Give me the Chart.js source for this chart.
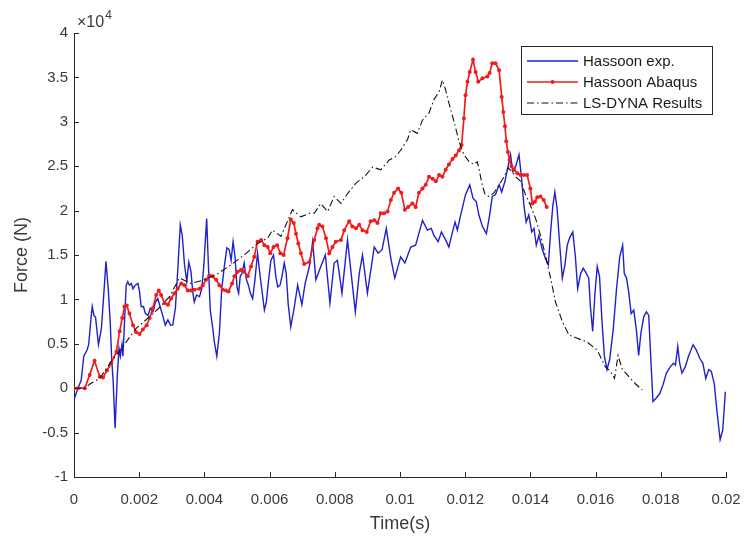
<!DOCTYPE html>
<html>
<head>
<meta charset="utf-8">
<script src="https://cdn.jsdelivr.net/npm/chart.js@4.4.1/dist/chart.umd.min.js"></script>
<style>
html, body { margin: 0; padding: 0; background: #fff; }
</style>
</head>
<body>
<canvas id="forceChart" width="747" height="536"></canvas>
<script>
// time in ms, force in 1e4 N
var expTimeMs = [0, 0.12, 0.22, 0.30, 0.40, 0.45, 0.53, 0.56, 0.61, 0.66,
  0.75, 0.84, 0.92, 0.98, 1.05, 1.11, 1.16, 1.20, 1.26, 1.33,
  1.38, 1.42, 1.47, 1.50, 1.54, 1.60, 1.65, 1.70, 1.76, 1.81,
  1.88, 1.96, 2.01, 2.06, 2.13, 2.19, 2.27, 2.34, 2.42, 2.50,
  2.57, 2.64, 2.72, 2.80, 2.88, 2.96, 3.03, 3.11, 3.18, 3.26,
  3.32, 3.39, 3.46, 3.52, 3.59, 3.64, 3.69, 3.76, 3.85, 3.92,
  3.98, 4.07, 4.12, 4.18, 4.25, 4.31, 4.38, 4.46, 4.53, 4.61,
  4.69, 4.76, 4.82, 4.88, 4.94, 5.00, 5.05, 5.10, 5.15, 5.22,
  5.29, 5.35, 5.41, 5.48, 5.55, 5.63, 5.71, 5.79, 5.84, 5.90,
  5.97, 6.04, 6.12, 6.19, 6.25, 6.32, 6.38, 6.45, 6.51, 6.57,
  6.65, 6.76, 6.86, 6.99, 7.09, 7.22, 7.32, 7.42, 7.57, 7.71,
  7.85, 7.98, 8.08, 8.22, 8.39, 8.63, 8.75, 8.85, 9.00, 9.21,
  9.33, 9.45, 9.58, 9.72, 9.84, 10.02, 10.15, 10.33, 10.48, 10.69,
  10.84, 10.96, 11.04, 11.17, 11.27, 11.40, 11.50, 11.61, 11.69, 11.76,
  11.86, 12.01, 12.14, 12.24, 12.34, 12.42, 12.53, 12.65, 12.75, 12.83,
  12.93, 13.04, 13.12, 13.22, 13.32, 13.39, 13.46, 13.55, 13.65, 13.73,
  13.80, 13.87, 13.95, 14.04, 14.11, 14.18, 14.26, 14.36, 14.46, 14.55,
  14.62, 14.69, 14.75, 14.82, 14.90, 14.98, 15.06, 15.13, 15.20, 15.30,
  15.38, 15.45, 15.54, 15.62, 15.72, 15.79, 15.84, 15.91, 15.98, 16.05,
  16.12, 16.20, 16.27, 16.35, 16.43, 16.54, 16.64, 16.74, 16.83, 16.88,
  16.95, 17.02, 17.09, 17.17, 17.25, 17.32, 17.39, 17.48, 17.56, 17.63,
  17.70, 17.76, 17.86, 17.97, 18.07, 18.17, 18.29, 18.39, 18.45, 18.52,
  18.58, 18.65, 18.75, 18.85, 18.99, 19.09, 19.19, 19.29, 19.38, 19.47,
  19.55, 19.64, 19.72, 19.82, 19.90, 19.98];
var expForce = [-0.13, 0, 0.09, 0.36, 0.43, 0.49, 0.82, 0.92, 0.82, 0.80,
  0.49, 0.67, 1.09, 1.43, 1.12, 0.75, 0.30, 0.09, -0.45, 0.15,
  0.45, 0.36, 0.49, 0.36, 0.67, 1.16, 1.20, 1.16, 1.18, 1.12,
  1.16, 1.18, 1.09, 0.92, 0.92, 0.84, 0.82, 0.90, 0.86, 0.97,
  1.01, 0.92, 0.82, 0.71, 0.77, 0.71, 0.71, 0.90, 1.31, 1.84,
  1.72, 1.39, 1.20, 1.42, 1.31, 1.09, 0.97, 1.05, 1.03, 1.12,
  1.37, 1.91, 1.41, 0.88, 0.69, 0.51, 0.36, 0.62, 1.11, 1.37,
  1.58, 1.56, 1.44, 1.65, 1.48, 1.14, 1.07, 1.26, 1.29, 1.41,
  1.22, 1.16, 1.07, 1.01, 1.22, 1.52, 1.26, 1.03, 0.88, 0.97,
  1.22, 1.44, 1.50, 1.26, 1.14, 1.16, 1.26, 1.41, 1.29, 0.95,
  0.69, 0.92, 1.16, 0.94, 1.18, 1.37, 1.65, 1.22, 1.37, 1.50,
  0.96, 1.41, 1.44, 1.07, 1.67, 0.86, 1.29, 1.50, 1.07, 1.59,
  1.52, 1.56, 1.80, 1.46, 1.24, 1.48, 1.41, 1.59, 1.61, 1.89,
  1.78, 1.80, 1.72, 1.65, 1.76, 1.67, 1.59, 1.76, 1.87, 1.78,
  1.95, 2.18, 2.29, 2.14, 2.10, 1.95, 1.82, 1.74, 1.95, 2.16,
  2.18, 2.29, 2.21, 2.33, 2.51, 2.63, 2.44, 2.50, 2.63, 2.36,
  2.06, 1.87, 1.95, 1.76, 1.80, 1.61, 1.72, 1.57, 1.46, 1.39,
  1.76, 2.06, 2.21, 2.02, 1.61, 1.24, 1.39, 1.61, 1.69, 1.76,
  1.48, 1.12, 1.29, 1.35, 1.29, 1.24, 0.92, 0.64, 1.07, 1.37,
  1.26, 0.73, 0.36, 0.21, 0.32, 0.66, 1.11, 1.48, 1.61, 1.29,
  1.24, 1.07, 0.84, 0.88, 0.66, 0.37, 0.62, 0.81, 0.86, 0.82,
  0.28, -0.15, -0.11, -0.06, 0.04, 0.17, 0.24, 0.28, 0.26, 0.47,
  0.28, 0.17, 0.24, 0.36, 0.49, 0.43, 0.34, 0.28, 0.11, 0.21,
  0.19, 0.05, -0.25, -0.58, -0.47, -0.04];

var abqTimeMs = [0, 0.12, 0.33, 0.48, 0.63, 0.79, 0.89, 1.01, 1.14, 1.30,
  1.40, 1.48, 1.55, 1.62, 1.70, 1.81, 1.91, 2.01, 2.11, 2.23,
  2.32, 2.42, 2.52, 2.60, 2.67, 2.78, 2.88, 2.98, 3.08, 3.18,
  3.29, 3.39, 3.49, 3.59, 3.69, 3.85, 3.95, 4.05, 4.15, 4.25,
  4.36, 4.46, 4.56, 4.66, 4.74, 4.85, 4.92, 5.02, 5.12, 5.22,
  5.33, 5.43, 5.53, 5.63, 5.74, 5.84, 5.94, 6.02, 6.12, 6.23,
  6.33, 6.43, 6.55, 6.65, 6.74, 6.81, 6.88, 6.96, 7.06, 7.22,
  7.37, 7.47, 7.52, 7.62, 7.73, 7.83, 7.93, 8.03, 8.19, 8.29,
  8.44, 8.54, 8.65, 8.75, 8.85, 8.98, 9.10, 9.21, 9.31, 9.41,
  9.51, 9.62, 9.72, 9.82, 9.94, 10.04, 10.15, 10.25, 10.38, 10.48,
  10.58, 10.69, 10.79, 10.89, 11.00, 11.10, 11.20, 11.30, 11.40, 11.50,
  11.61, 11.71, 11.81, 11.89, 11.96, 12.01, 12.07, 12.14, 12.24, 12.32,
  12.40, 12.53, 12.68, 12.75, 12.83, 12.93, 13.04, 13.12, 13.17, 13.22,
  13.26, 13.31, 13.36, 13.42, 13.50, 13.60, 13.70, 13.80, 13.90, 14.00,
  14.06, 14.14, 14.21, 14.31, 14.41, 14.50];
var abqForce = [0, 0, 0, 0.15, 0.31, 0.13, 0.12, 0.20, 0.28, 0.41,
  0.64, 0.79, 0.92, 0.93, 0.84, 0.71, 0.63, 0.61, 0.66, 0.71,
  0.79, 0.90, 1.05, 1.10, 1.05, 0.96, 0.94, 1.01, 1.07, 1.12,
  1.18, 1.16, 1.10, 1.10, 1.11, 1.12, 1.16, 1.22, 1.27, 1.26,
  1.22, 1.16, 1.11, 1.10, 1.09, 1.18, 1.26, 1.31, 1.33, 1.31,
  1.26, 1.37, 1.48, 1.65, 1.67, 1.61, 1.59, 1.52, 1.59, 1.61,
  1.52, 1.50, 1.69, 1.90, 1.86, 1.74, 1.63, 1.52, 1.40, 1.42,
  1.67, 1.80, 1.84, 1.82, 1.69, 1.52, 1.59, 1.65, 1.67, 1.78,
  1.88, 1.82, 1.80, 1.84, 1.78, 1.76, 1.88, 1.89, 1.86, 1.97,
  1.97, 1.99, 2.12, 2.20, 2.25, 2.20, 2.01, 2.04, 2.08, 2.04,
  2.20, 2.25, 2.29, 2.38, 2.36, 2.33, 2.40, 2.38, 2.46, 2.52,
  2.58, 2.62, 2.68, 2.74, 3.04, 3.30, 3.45, 3.56, 3.70, 3.56,
  3.45, 3.49, 3.51, 3.55, 3.66, 3.66, 3.58, 3.28, 3.11, 2.95,
  2.78, 2.66, 2.57, 2.50, 2.46, 2.42, 2.40, 2.40, 2.40, 2.25,
  2.08, 2.10, 2.15, 2.16, 2.12, 2.04];

var dynaTimeMs = [0, 0.33, 0.50, 0.79, 1.14, 1.50, 1.90, 2.30, 2.60, 2.93,
  3.23, 3.59, 3.99, 4.41, 4.82, 5.22, 5.63, 5.94, 6.09, 6.35,
  6.70, 6.96, 7.22, 7.37, 7.57, 7.78, 7.98, 8.19, 8.39, 8.65,
  8.90, 9.16, 9.41, 9.67, 9.87, 10.02, 10.23, 10.33, 10.53, 10.69,
  10.89, 11.04, 11.20, 11.30, 11.40, 11.50, 11.66, 11.81, 11.96, 12.12,
  12.27, 12.37, 12.44, 12.52, 12.61, 12.73, 12.88, 13.04, 13.19, 13.32,
  13.44, 13.55, 13.70, 13.85, 14.00, 14.16, 14.31, 14.46, 14.62, 14.77,
  14.98, 15.18, 15.38, 15.74, 16.05, 16.30, 16.46, 16.58, 16.69, 16.81,
  17.02, 17.22, 17.43];
var dynaForce = [0, 0, 0.05, 0.11, 0.30, 0.47, 0.67, 0.80, 0.90, 1.03,
  1.24, 1.18, 1.22, 1.29, 1.39, 1.50, 1.63, 1.69, 1.78, 1.71,
  2.01, 1.93, 1.97, 1.97, 2.08, 1.99, 2.16, 2.08, 2.19, 2.31,
  2.38, 2.49, 2.46, 2.57, 2.61, 2.68, 2.80, 2.91, 2.87, 3.02,
  3.10, 3.25, 3.34, 3.47, 3.36, 3.21, 3.00, 2.78, 2.63, 2.55,
  2.52, 2.55, 2.44, 2.29, 2.18, 2.16, 2.20, 2.29, 2.38, 2.48,
  2.44, 2.38, 2.33, 2.18, 2.06, 1.91, 1.72, 1.50, 1.24, 0.97,
  0.75, 0.60, 0.57, 0.52, 0.43, 0.24, 0.19, 0.11, 0.37, 0.22,
  0.13, 0.05, -0.02];

var seriesNames = ['Hassoon exp.', 'Hassoon Abaqus', 'LS-DYNA Results'];
var xTitle = 'Time(s)';
var yTitle = 'Force (N)';

var axisColor = '#262626';
var textColor = '#3a3a3a';
var fontFamily = '"Liberation Sans", Arial, sans-serif';

function toPoints(tms, f) {
  var pts = [];
  for (var i = 0; i < tms.length; i++) {
    pts.push({x: tms[i] / 1000, y: f[i]});
  }
  return pts;
}

// MATLAB style ticks, pointing into the plot
var inwardTicks = {
  id: 'inwardTicks',
  afterDatasetsDraw: function (chart) {
    var ctx = chart.ctx, a = chart.chartArea;
    var xs = chart.scales.x, ys = chart.scales.y;
    ctx.save();
    ctx.strokeStyle = axisColor;
    ctx.lineWidth = 1;
    ctx.beginPath();
    xs.ticks.forEach(function (t) {
      var px = Math.round(xs.getPixelForValue(t.value)) + 0.5;
      ctx.moveTo(px, a.bottom);
      ctx.lineTo(px, a.bottom - 5);
    });
    ys.ticks.forEach(function (t) {
      var py = Math.round(ys.getPixelForValue(t.value)) + 0.5;
      ctx.moveTo(a.left, py);
      ctx.lineTo(a.left + 5, py);
    });
    ctx.stroke();
    ctx.restore();
  }
};

// x10^4 multiplier above the y axis
var exponentLabel = {
  id: 'exponentLabel',
  afterDraw: function (chart) {
    var ctx = chart.ctx, a = chart.chartArea;
    ctx.save();
    ctx.fillStyle = textColor;
    ctx.textBaseline = 'alphabetic';
    ctx.textAlign = 'left';
    ctx.font = '16px ' + fontFamily;
    ctx.fillText('\u00d710', a.left + 3, a.top - 6);
    var w = ctx.measureText('\u00d710').width;
    ctx.font = '12px ' + fontFamily;
    ctx.fillText('4', a.left + 4 + w, a.top - 14);
    ctx.restore();
  }
};

// boxed legend in the upper right corner of the axes
var boxLegend = {
  id: 'boxLegend',
  afterDraw: function (chart) {
    var ctx = chart.ctx, a = chart.chartArea;
    var w = 191, h = 68;
    var left = a.right - 14 - w, top = a.top + 13;
    ctx.save();
    ctx.fillStyle = '#fff';
    ctx.fillRect(left, top, w, h);
    ctx.strokeStyle = axisColor;
    ctx.lineWidth = 1;
    ctx.strokeRect(Math.round(left) + 0.5, Math.round(top) + 0.5, w, h);
    ctx.font = '15px ' + fontFamily;
    ctx.textBaseline = 'middle';
    ctx.textAlign = 'left';
    [0, 1, 2].forEach(function (i) {
      var ds = chart.data.datasets[i];
      var yy = top + 15 + i * 21;
      ctx.strokeStyle = ds.borderColor;
      ctx.lineWidth = ds.borderWidth;
      ctx.setLineDash(ds.borderDash || []);
      ctx.beginPath();
      ctx.moveTo(left + 6, yy);
      ctx.lineTo(left + 57, yy);
      ctx.stroke();
      ctx.setLineDash([]);
      if (ds.pointRadius > 0) {
        ctx.fillStyle = ds.pointBackgroundColor;
        ctx.beginPath();
        ctx.arc(left + 31.5, yy, ds.pointRadius, 0, Math.PI * 2);
        ctx.fill();
      }
      ctx.fillStyle = '#1a1a1a';
      ctx.fillText(ds.label, left + 62, yy + 1);
    });
    ctx.restore();
  }
};

Chart.defaults.font.family = fontFamily;

var ctx = document.getElementById('forceChart').getContext('2d');
var forceChart = new Chart(ctx, {
  type: 'line',
  data: {
    datasets: [{
      label: seriesNames[0],
      data: toPoints(expTimeMs, expForce),
      borderColor: '#2020cc',
      borderWidth: 1.4,
      pointRadius: 0,
      tension: 0,
      order: 2
    }, {
      label: seriesNames[1],
      data: toPoints(abqTimeMs, abqForce),
      borderColor: '#f01c1c',
      borderWidth: 1.7,
      pointRadius: 2,
      pointBorderWidth: 0,
      pointBackgroundColor: '#f01c1c',
      tension: 0,
      order: 1
    }, {
      label: seriesNames[2],
      data: toPoints(dynaTimeMs, dynaForce),
      borderColor: '#111111',
      borderWidth: 1.1,
      borderDash: [7, 3, 1.5, 3],
      pointRadius: 0,
      tension: 0,
      order: 0
    }]
  },
  options: {
    responsive: false,
    animation: false,
    layout: {
      padding: {top: 33, right: 21, left: 0, bottom: 0}
    },
    plugins: {
      legend: {display: false},
      tooltip: {enabled: false}
    },
    scales: {
      x: {
        type: 'linear',
        min: 0,
        max: 0.02,
        afterFit: function (s) {
          s.height = 59;
          s.paddingLeft = 0;
          s.paddingRight = 0;
        },
        grid: {display: false, drawTicks: false},
        border: {display: true, color: axisColor, width: 1},
        ticks: {
          stepSize: 0.002,
          padding: 14,
          color: textColor,
          font: {size: 15},
          maxRotation: 0,
          callback: function (v) { return String(parseFloat(v.toFixed(3))); }
        },
        title: {
          display: true,
          text: xTitle,
          color: textColor,
          font: {size: 18},
          padding: {top: 0, bottom: 1}
        }
      },
      y: {
        min: -1,
        max: 4,
        afterFit: function (s) {
          s.width = 74;
          s.paddingTop = 0;
          s.paddingBottom = 0;
        },
        grid: {display: false, drawTicks: false},
        border: {display: true, color: axisColor, width: 1},
        ticks: {
          stepSize: 0.5,
          padding: 6,
          color: textColor,
          font: {size: 15},
          callback: function (v) { return String(Math.round(v * 10) / 10); }
        },
        title: {
          display: true,
          text: yTitle,
          color: textColor,
          font: {size: 18},
          padding: {top: 11, bottom: 0}
        }
      }
    }
  },
  plugins: [inwardTicks, exponentLabel, boxLegend]
});
</script>
</body>
</html>
